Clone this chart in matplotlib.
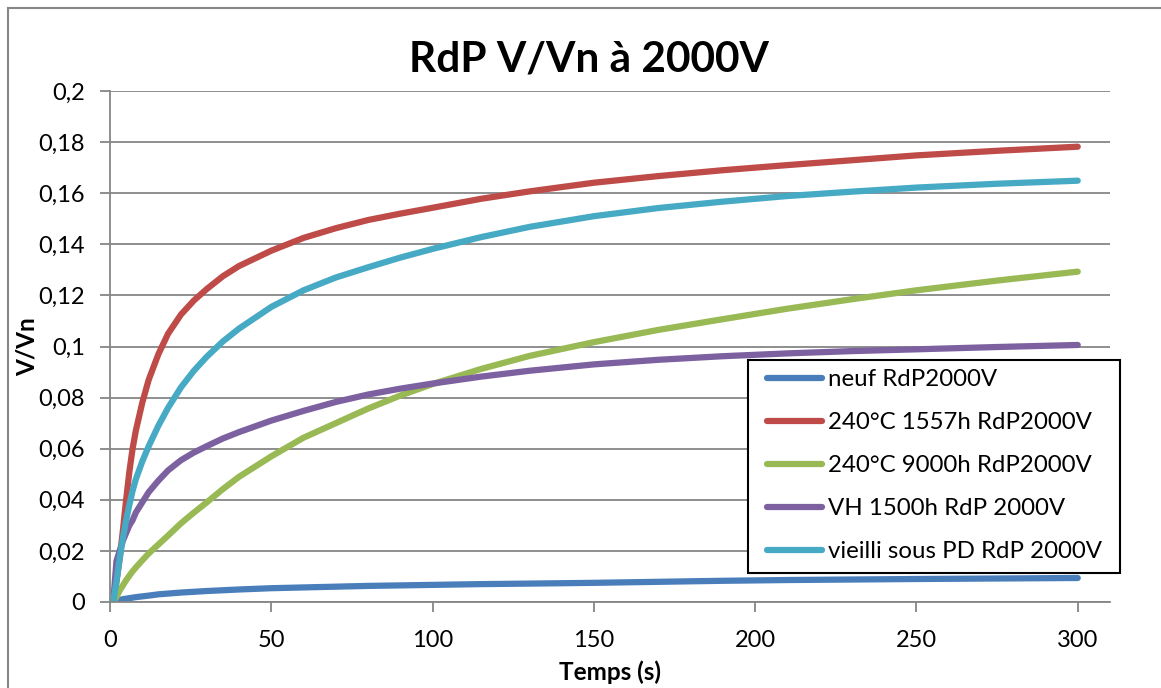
import matplotlib
matplotlib.use("Agg")
import matplotlib.pyplot as plt
from matplotlib.patches import Rectangle
from matplotlib.ticker import FuncFormatter, MultipleLocator

plt.rcParams['font.family'] = ['Lato', 'DejaVu Sans']

time_s = [1, 2, 3, 4, 5, 6, 7, 8, 10, 12, 15, 18, 22, 26, 30, 35, 40, 50, 60, 70,
          80, 90, 100, 115, 130, 150, 170, 190, 210, 230, 250, 275, 300]

neuf = [0, 0.0004, 0.0008, 0.0011, 0.0013, 0.0015, 0.0017, 0.0019, 0.0022, 0.0025,
        0.003, 0.0033, 0.0037, 0.004, 0.0043, 0.0046, 0.0049, 0.0054, 0.0057, 0.006,
        0.0063, 0.0065, 0.0067, 0.007, 0.0072, 0.0075, 0.0079, 0.0083, 0.0086, 0.0088,
        0.009, 0.0092, 0.0094]

h1557 = [0, 0.008, 0.017, 0.028, 0.040, 0.051, 0.060, 0.067, 0.078, 0.087, 0.097,
         0.105, 0.1125, 0.118, 0.1225, 0.1275, 0.1315, 0.1375, 0.1425, 0.1463, 0.1495,
         0.152, 0.1543, 0.1578, 0.1607, 0.1641, 0.1667, 0.169, 0.171, 0.1729, 0.1748,
         0.1766, 0.1782]

h9000 = [0, 0.002, 0.0045, 0.0065, 0.0085, 0.0103, 0.012, 0.0135, 0.0163, 0.019,
         0.0225, 0.026, 0.0308, 0.035, 0.039, 0.0442, 0.049, 0.057, 0.0643, 0.070,
         0.0757, 0.0808, 0.0853, 0.0912, 0.0963, 0.1017, 0.1065, 0.1107, 0.1148, 0.1185,
         0.122, 0.1258, 0.1293]

vh1500 = [0, 0.016, 0.020, 0.024, 0.027, 0.030, 0.032, 0.035, 0.039, 0.043, 0.0475,
          0.0515, 0.0555, 0.0585, 0.061, 0.064, 0.0665, 0.071, 0.0748, 0.0783, 0.0812,
          0.0835, 0.0855, 0.0882, 0.0905, 0.093, 0.0948, 0.0962, 0.0973, 0.0982, 0.0989,
          0.0998, 0.1006]

vieilli_pd = [0, 0.008, 0.017, 0.025, 0.032, 0.038, 0.0435, 0.048, 0.055, 0.061, 0.069,
              0.076, 0.084, 0.0905, 0.096, 0.102, 0.107, 0.1155, 0.122, 0.127, 0.131,
              0.1348, 0.1382, 0.1428, 0.1468, 0.151, 0.1542, 0.1567, 0.1589, 0.1606,
              0.1622, 0.1637, 0.1649]

labels = ["neuf RdP2000V", "240°C 1557h RdP2000V", "240°C 9000h RdP2000V",
          "VH 1500h RdP 2000V", "vieilli sous PD RdP 2000V"]
colors = ["#4A7EBB", "#BE4B48", "#98B954", "#7D60A0", "#46AAC5"]
series = [neuf, h1557, h9000, vh1500, vieilli_pd]

W, H = 1161, 688
fig = plt.figure(figsize=(W / 100, H / 100), dpi=100)
ax = fig.add_axes([110 / W, 86 / H, 1000 / W, 511 / H])

for vals, lab, col in zip(series, labels, colors):
    ax.plot(time_s, vals, color=col, lw=4.5, label=lab,
            solid_capstyle='round', solid_joinstyle='round')

ax.set_xlim(0, 310)
ax.set_ylim(0, 0.2)
ax.yaxis.set_major_locator(MultipleLocator(0.02))
ax.set_xticks([0, 50, 100, 150, 200, 250, 300])


def fmt_y(v, pos):
    if abs(v) < 1e-12:
        return "0"
    s = ("%.2f" % v).rstrip('0').rstrip('.')
    return s.replace('.', ',')


ax.yaxis.set_major_formatter(FuncFormatter(fmt_y))
ax.xaxis.set_major_formatter(FuncFormatter(lambda v, p: "%d" % v))

gray = "#868686"
ax.grid(axis='y', color=gray, lw=1.3)
ax.set_axisbelow(True)
for s in ['top', 'right']:
    ax.spines[s].set_visible(False)
for s in ['left', 'bottom']:
    ax.spines[s].set_color(gray)
    ax.spines[s].set_linewidth(1.3)
ax.tick_params(axis='both', direction='out', length=7, width=1.3, color=gray,
               labelsize=17)
ax.tick_params(axis='y', pad=11)
ax.tick_params(axis='x', pad=13)

ax.set_xlabel("Temps (s)", fontsize=17.5, fontweight='bold', labelpad=7)
ax.set_ylabel("V/Vn", fontsize=17.5, fontweight='bold', labelpad=0)
fig.text(589 / W, 1 - 60 / H, "RdP V/Vn à 2000V", fontsize=30.5, fontweight='bold',
         ha='center', va='center')

# legend box drawn explicitly, entries placed inside
box = Rectangle((748 / W, 1 - 573 / H), (1120 - 748) / W, (573 - 360) / H,
                transform=fig.transFigure, facecolor='white', edgecolor='black',
                lw=1.5, zorder=5)
fig.patches.append(box)
leg = fig.legend(loc='upper left', bbox_to_anchor=(767 / W, 1 - 369 / H),
                 fontsize=17.3, frameon=False, handlelength=2.3,
                 handletextpad=0.22, labelspacing=0.92, borderpad=0,
                 borderaxespad=0)
leg.set_zorder(6)
for line in leg.get_lines():
    line.set_linewidth(4.5)

border = Rectangle((8 / W, -0.1), 1.2, 1 - 8 / H + 0.1, transform=fig.transFigure,
                   fill=False, edgecolor=gray, lw=1.5)
fig.patches.append(border)

fig.savefig("out.png", dpi=100)
